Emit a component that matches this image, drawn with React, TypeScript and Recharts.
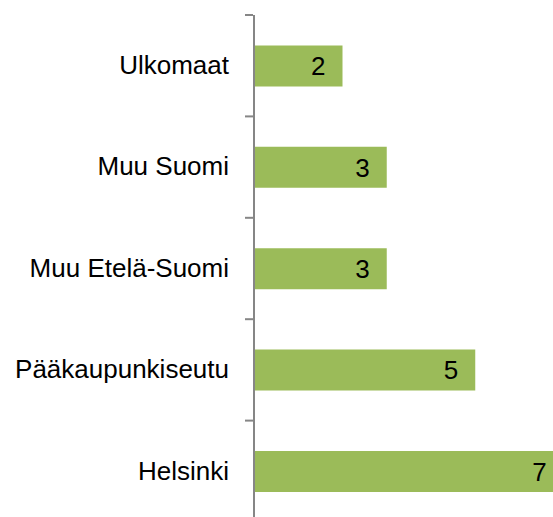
import { BarChart, Bar, XAxis, YAxis, LabelList } from 'recharts'

const categories = ['Ulkomaat', 'Muu Suomi', 'Muu Etelä-Suomi', 'Pääkaupunkiseutu', 'Helsinki']
const values = [2, 3, 3, 5, 7]

const chartData = categories.map((name, i) => ({ name, value: values[i] }))

const CHART_W = 608
const CHART_H = 522
const TOP = 15
const AXIS_W = 254
const BAND = (CHART_H - TOP) / categories.length
const FONT = '"Liberation Sans", Arial, sans-serif'

interface TickProps {
  x?: number
  y?: number
  index?: number
  payload?: { value: string }
}

// category label at band centre, tick mark at the band's top edge (Excel style)
function CategoryTick({ x = 0, y = 0, index = 0, payload }: TickProps) {
  const axisX = AXIS_W - 1
  const top = y - BAND / 2
  const bottom = y + BAND / 2
  return (
    <g>
      <line x1={axisX - 8} x2={axisX} y1={top} y2={top} stroke="#868686" strokeWidth={2} />
      {index === categories.length - 1 && (
        <line x1={axisX - 8} x2={axisX} y1={bottom} y2={bottom} stroke="#868686" strokeWidth={2} />
      )}
      <text
        x={x - 17}
        y={y - 1}
        dy="0.355em"
        textAnchor="end"
        fontSize={26}
        fontFamily={FONT}
        fill="#000"
      >
        {payload?.value}
      </text>
    </g>
  )
}

export default function App() {
  return (
    <div
      style={{
        position: 'fixed',
        left: 0,
        top: 0,
        width: 553,
        height: 517,
        overflow: 'hidden',
        background: '#fff',
      }}
    >
      <BarChart
        width={CHART_W}
        height={CHART_H}
        data={chartData}
        layout="vertical"
        margin={{ top: TOP, right: 0, bottom: 0, left: 0 }}
        barCategoryGap="30%"
      >
        <XAxis type="number" domain={[0, 8]} hide />
        <YAxis
          type="category"
          dataKey="name"
          width={AXIS_W}
          axisLine={{ stroke: '#868686', strokeWidth: 2 }}
          tickLine={false}
          tick={<CategoryTick />}
          interval={0}
        />
        <Bar dataKey="value" fill="#9BBB59" isAnimationActive={false}>
          <LabelList
            dataKey="value"
            position="insideRight"
            offset={17}
            fill="#000"
            fontSize={26}
            fontFamily={FONT}
          />
        </Bar>
      </BarChart>
    </div>
  )
}
